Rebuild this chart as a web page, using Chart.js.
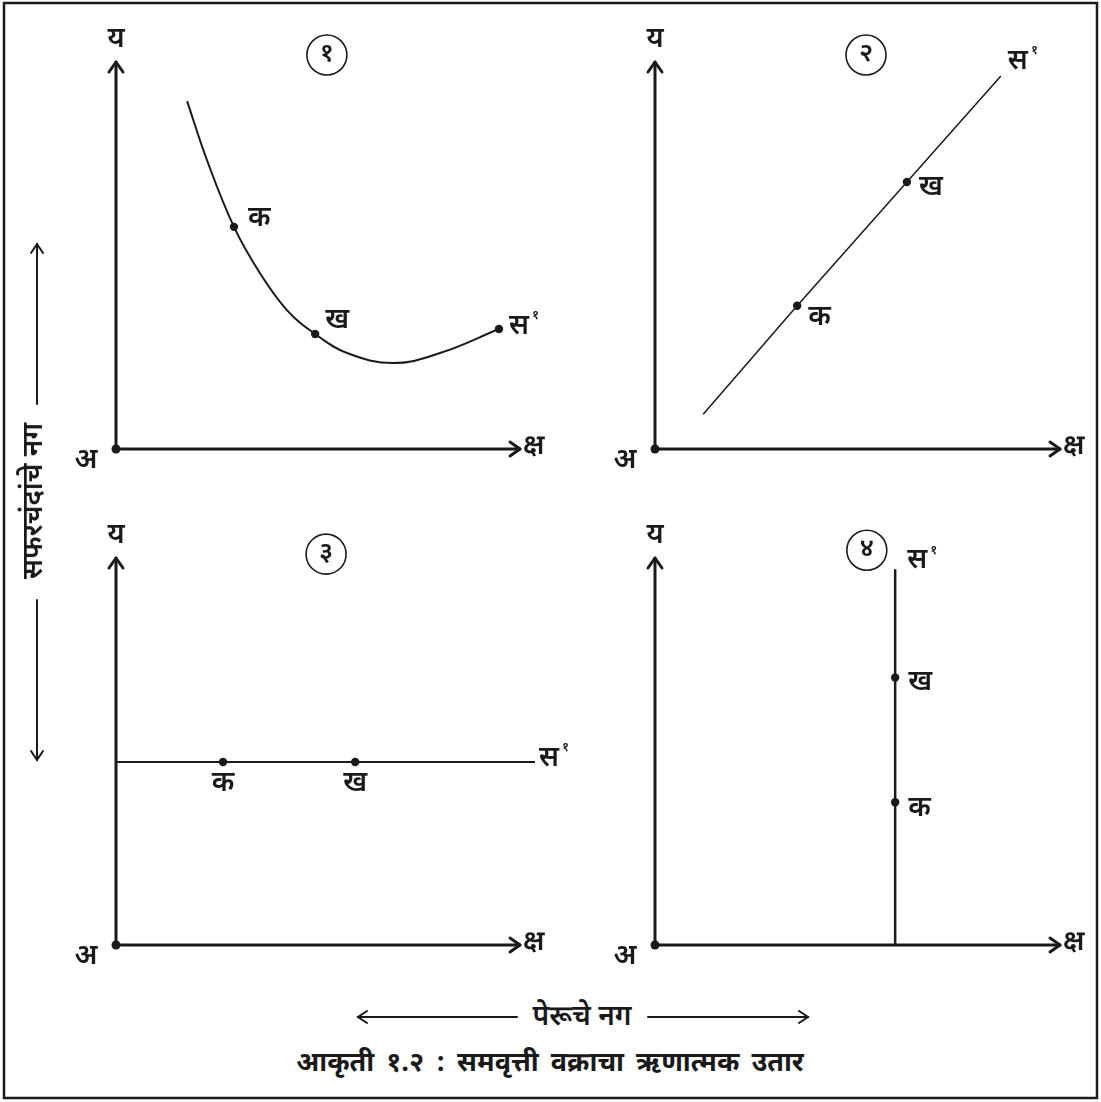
<!DOCTYPE html>
<html>
<head>
<meta charset="utf-8">
<script src="https://cdn.jsdelivr.net/npm/chart.js"></script>
<style>
  body { margin: 0; background: #fff; }
  #page { position: relative; width: 1101px; height: 1102px; overflow: hidden;
          font-family: "Noto Sans Devanagari", "Lohit Devanagari", "FreeSans", "Noto Sans", sans-serif; color: #1a1a1a; }
  .cell { position: absolute; }
  #deco { position: absolute; left: 0; top: 0; }
  .txt { position: absolute; white-space: nowrap; font-size: 28px; font-weight: 600; line-height: 1; }
  #ylabel { left: 35px; top: 501px; transform: translate(-50%, -50%) rotate(-90deg); }
  #xlabel { left: 582px; top: 1018px; transform: translate(-50%, -50%); }
  #title { left: 550px; top: 1064px; transform: translate(-50%, -50%); font-size: 27px; font-weight: 700; word-spacing: 5px; }
</style>
</head>
<body>
<div id="page">
  <svg id="deco" width="1101" height="1102">
    <rect x="4" y="3" width="1093" height="1095" fill="none" stroke="#1a1a1a" stroke-width="2.5"/>
    <g stroke="#1a1a1a" stroke-width="2" fill="none" stroke-linecap="round">
      <line x1="37" y1="244" x2="37" y2="404"/>
      <polyline points="31,253 37,244 43,253"/>
      <line x1="37" y1="600" x2="37" y2="760"/>
      <polyline points="31,751 37,760 43,751"/>
      <line x1="358" y1="1017" x2="517" y2="1017"/>
      <polyline points="367,1011 358,1017 367,1023"/>
      <line x1="648" y1="1017" x2="808" y2="1017"/>
      <polyline points="799,1011 808,1017 799,1023"/>
    </g>
  </svg>
  <div class="cell" style="left:0;top:0;width:550px;height:490px"><canvas id="p1"></canvas></div>
  <div class="cell" style="left:550px;top:0;width:551px;height:490px"><canvas id="p2"></canvas></div>
  <div class="cell" style="left:0;top:490px;width:600px;height:500px"><canvas id="p3"></canvas></div>
  <div class="cell" style="left:600px;top:490px;width:501px;height:500px"><canvas id="p4"></canvas></div>
  <div class="txt" id="ylabel">सफरचंदांचे नग</div>
  <div class="txt" id="xlabel">पेरूचे नग</div>
  <div class="txt" id="title">आकृती १.२ : समवृत्ती वक्राचा ऋणात्मक उतार</div>
</div>

<script>
// Panel 1: falling then rising curve
const curveX = [1.76, 2.25, 2.92, 3.56, 4.23, 4.93, 5.72, 6.86, 8.02, 9.48];
const curveY = [8.99, 7.47, 5.74, 4.55, 3.59, 2.97, 2.48, 2.22, 2.48, 3.10];
const curveMarks = ['', '', 'क', '', '', 'ख', '', '', '', 'स'];

// Panel 2: rising straight line
const lineX = [1.19, 3.51, 6.22, 8.54];
const lineY = [0.90, 3.70, 6.90, 9.64];
const lineMarks = ['', 'क', 'ख', 'स'];

// Panel 3: horizontal line
const flatX = [0, 2.65, 5.92, 10.37];
const flatY = [4.73, 4.73, 4.73, 4.73];
const flatMarks = ['', 'क', 'ख', 'स'];

// Panel 4: vertical line
const vertX = [5.93, 5.93, 5.93, 5.93];
const vertY = [0, 3.69, 6.91, 9.71];
const vertMarks = ['', 'क', 'ख', 'स'];

const panelNumbers = ['१', '२', '३', '४'];
const axisMax = 10;

const INK = '#1a1a1a';
const FONT = '"Noto Sans Devanagari", "Lohit Devanagari", "FreeSans", "Noto Sans", sans-serif';
const LABEL_FONT = '600 28px ' + FONT;

// per panel drawing setup
const panels = [
  { id: 'p1', x: curveX, y: curveY, marks: curveMarks, num: panelNumbers[0], numAt: [5.22, 10.18],
    pad: { left: 116, right: 30, top: 62, bottom: 41 }, lineWidth: 2, smooth: true,
    offsets: { 'क': [14, -6, 'left'], 'ख': [10, -11, 'left'], 'स': [10, 0, 'left'] } },
  { id: 'p2', x: lineX, y: lineY, marks: lineMarks, num: panelNumbers[1], numAt: [5.21, 10.18],
    pad: { left: 105, right: 41, top: 62, bottom: 41 }, lineWidth: 1.5, smooth: false,
    offsets: { 'क': [11, 14, 'left'], 'ख': [12, 8, 'left'], 'स': [7, -12, 'left'] } },
  { id: 'p3', x: flatX, y: flatY, marks: flatMarks, num: panelNumbers[2], numAt: [5.2, 10.1],
    pad: { left: 116, right: 80, top: 68, bottom: 45 }, lineWidth: 2, smooth: false,
    offsets: { 'क': [0, 24, 'center'], 'ख': [0, 24, 'center'], 'स': [4, -1, 'left'] } },
  { id: 'p4', x: vertX, y: vertY, marks: vertMarks, num: panelNumbers[3], numAt: [5.23, 10.2],
    pad: { left: 55, right: 41, top: 68, bottom: 45 }, lineWidth: 2.5, smooth: false,
    offsets: { 'क': [13, 9, 'left'], 'ख': [13, 7, 'left'], 'स': [12, -6, 'left'] } }
];

function arrowHead(ctx, x, y, dir) {
  const s = 10;
  ctx.beginPath();
  if (dir === 'up') {
    ctx.moveTo(x - 7, y + s); ctx.lineTo(x, y); ctx.lineTo(x + 7, y + s);
  } else {
    ctx.moveTo(x - s, y - 7); ctx.lineTo(x, y); ctx.lineTo(x - s, y + 7);
  }
  ctx.stroke();
}

// draws axes, arrowheads, axis letters, panel number and point labels
const diagramPlugin = {
  id: 'diagram',
  afterDatasetsDraw(chart, args, opts) {
    const ctx = chart.ctx;
    const xs = chart.scales.x, ys = chart.scales.y;
    const ox = xs.getPixelForValue(0), oy = ys.getPixelForValue(0);
    const tx = xs.getPixelForValue(axisMax), ty = ys.getPixelForValue(axisMax);
    ctx.save();
    ctx.strokeStyle = INK;
    ctx.fillStyle = INK;
    ctx.lineWidth = 3;
    ctx.lineCap = 'round';
    ctx.lineJoin = 'round';
    ctx.beginPath();
    ctx.moveTo(ox, ty); ctx.lineTo(ox, oy); ctx.lineTo(tx, oy);
    ctx.stroke();
    arrowHead(ctx, ox, ty, 'up');
    arrowHead(ctx, tx, oy, 'right');
    ctx.beginPath();
    ctx.arc(ox, oy, 4.5, 0, Math.PI * 2);
    ctx.fill();

    ctx.font = LABEL_FONT;
    ctx.textBaseline = 'middle';
    ctx.textAlign = 'center';
    ctx.fillText('य', ox, ty - 20);
    ctx.fillText('अ', ox - 30, oy + 14);
    ctx.textAlign = 'left';
    ctx.fillText('क्ष', tx + 3, oy);

    // circled panel number
    const p = opts.panel;
    const cx = xs.getPixelForValue(p.numAt[0]), cy = ys.getPixelForValue(p.numAt[1]);
    ctx.lineWidth = 1.6;
    ctx.beginPath();
    ctx.arc(cx, cy, 20, 0, Math.PI * 2);
    ctx.stroke();
    ctx.textAlign = 'center';
    ctx.font = '600 26px ' + FONT;
    ctx.fillText(p.num, cx, cy + 1);

    // point labels
    ctx.font = LABEL_FONT;
    p.marks.forEach((m, i) => {
      if (!m) return;
      const off = p.offsets[m];
      const px = xs.getPixelForValue(p.x[i]) + off[0];
      const py = ys.getPixelForValue(p.y[i]) + off[1];
      ctx.textAlign = off[2];
      const w = ctx.measureText(m).width;
      const lx = off[2] === 'center' ? px : px + w / 2;
      ctx.textAlign = 'center';
      ctx.fillText(m, lx, py);
      if (m === 'स') {
        ctx.font = '600 13px ' + FONT;
        ctx.textAlign = 'left';
        ctx.fillText('१', lx + w / 2 + 3, py - 12);
        ctx.font = LABEL_FONT;
      }
    });
    ctx.restore();
  }
};

panels.forEach(p => {
  const pts = p.x.map((v, i) => ({ x: v, y: p.y[i] }));
  // dots on the labelled points; the free ends of panels 2, 3, 4 stay open
  const radii = p.marks.map(m => (m === 'क' || m === 'ख' || (m === 'स' && p.id === 'p1')) ? 4.2 : 0);
  new Chart(document.getElementById(p.id), {
    type: 'scatter',
    data: {
      datasets: [{
        data: pts,
        showLine: true,
        borderColor: INK,
        backgroundColor: INK,
        borderWidth: p.lineWidth,
        pointRadius: radii,
        pointHoverRadius: radii,
        pointBorderWidth: 0,
        tension: p.smooth ? 0.4 : 0,
        clip: false
      }]
    },
    options: {
      responsive: true,
      maintainAspectRatio: false,
      animation: false,
      events: [],
      layout: { padding: p.pad },
      plugins: {
        legend: { display: false },
        tooltip: { enabled: false },
        diagram: { panel: p }
      },
      scales: {
        x: { type: 'linear', min: 0, max: axisMax, display: false },
        y: { type: 'linear', min: 0, max: axisMax, display: false }
      }
    },
    plugins: [diagramPlugin]
  });
});
</script>
</body>
</html>
